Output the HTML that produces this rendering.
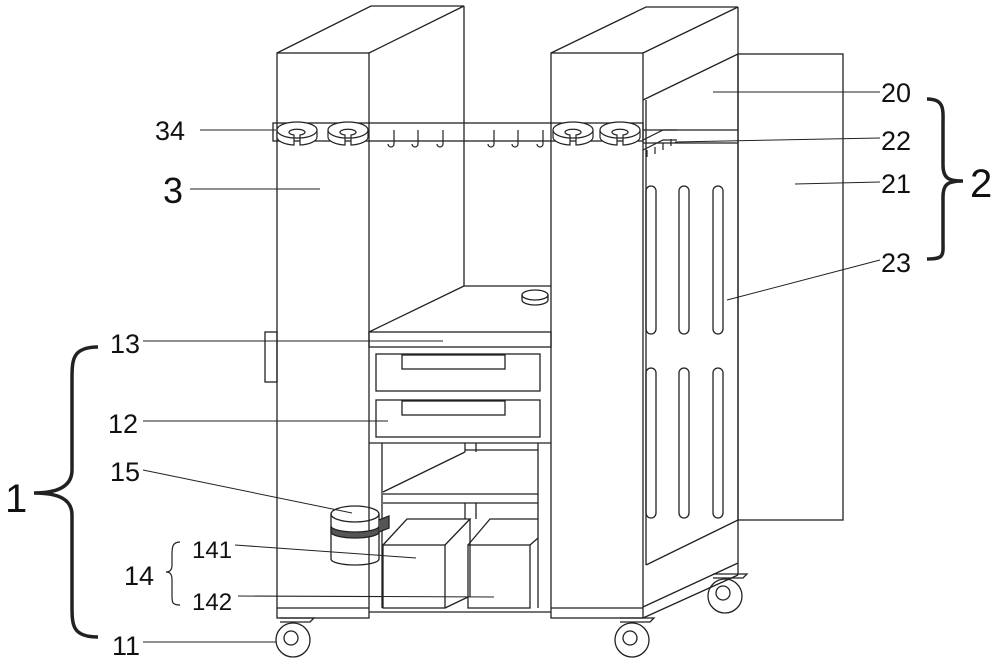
<!DOCTYPE html>
<html><head><meta charset="utf-8"><style>
html,body{margin:0;padding:0;background:#fff;}
svg{display:block}
text{font-family:"Liberation Sans",sans-serif;fill:#111}
</style></head><body>
<svg width="1000" height="666" viewBox="0 0 1000 666" xmlns="http://www.w3.org/2000/svg">
<defs>
<g id="holder" fill="#fff" stroke="#222" stroke-width="1.2">
<path d="M-20,0 a20,8 0 0 1 40,0 l0,7 a20,8 0 0 1 -17,8 l0,-7 l-6,0 l0,7 a20,8 0 0 1 -17,-8 z"/>
<path d="M-20,0 a20,8 0 0 0 17,8 l0,-3 a8,3 0 1 1 6,0 l0,3 a20,8 0 0 0 17,-8"/>
</g>
</defs>
<g fill="none" stroke="#222" stroke-width="1.3">
<!-- left tower -->
<rect x="277" y="53" width="92" height="565"/>
<line x1="277" y1="608" x2="369" y2="608"/>
<polyline points="277,53 371,6 464,6 369,53"/>
<line x1="464" y1="6" x2="464" y2="286"/>
<rect x="265" y="332" width="12" height="50"/>
<!-- right tower -->
<rect x="551" y="53" width="92" height="565"/>
<line x1="551" y1="608" x2="643" y2="608"/>
<polyline points="551,53 646,7 738,7 643,53"/>
<line x1="738" y1="7" x2="738" y2="575"/>
<line x1="643" y1="100" x2="738" y2="54"/>
<line x1="646" y1="100" x2="646" y2="565"/>
<line x1="643" y1="130" x2="738" y2="130"/>
<line x1="643" y1="143" x2="738" y2="143"/>
<rect x="738" y="54" width="105" height="466"/>
<line x1="646" y1="565" x2="738" y2="520"/>
<line x1="643" y1="607" x2="738" y2="563"/>
<line x1="643" y1="618" x2="738" y2="575"/>
<!-- slots -->
<g>
<rect x="646" y="186" width="10" height="148" rx="5"/>
<rect x="679" y="186" width="10" height="148" rx="5"/>
<rect x="713" y="186" width="10" height="148" rx="5"/>
<rect x="646" y="368" width="10" height="150" rx="5"/>
<rect x="679" y="368" width="10" height="150" rx="5"/>
<rect x="713" y="368" width="10" height="150" rx="5"/>
</g>
<!-- bar 34 -->
<rect x="273" y="123" width="370" height="18"/>
<g stroke-width="1.2">
<path d="M394,130 l0,14 a3,3 0 0 1 -6,0 M418,130 l0,14 a3,3 0 0 1 -6,0 M443,130 l0,14 a3,3 0 0 1 -6,0"/>
<path d="M494,130 l0,14 a3,3 0 0 1 -6,0 M518,130 l0,14 a3,3 0 0 1 -6,0 M543,130 l0,14 a3,3 0 0 1 -6,0"/>
<path d="M643,140 l20,-10 l14,0 M643,150 l20,-10 l14,0"/>
<path d="M647,150 l0,7 M655,147 l0,7 M663,143 l0,7 M671,139 l0,7"/>
</g>
<!-- middle shelf -->
<line x1="369" y1="332" x2="464" y2="286"/>
<line x1="464" y1="286" x2="551" y2="286"/>
<ellipse cx="535" cy="295" rx="13" ry="5"/>
<path d="M522,295 l0,5 a13,5 0 0 0 26,0 l0,-5"/>
<rect x="369" y="332" width="182" height="15"/>
<rect x="376" y="354" width="164" height="37"/>
<rect x="402" y="355" width="103" height="14"/>
<rect x="376" y="400" width="164" height="37"/>
<rect x="402" y="401" width="103" height="14"/>
<line x1="369" y1="443" x2="551" y2="443"/>
<line x1="382" y1="443" x2="382" y2="608"/>
<line x1="538" y1="443" x2="538" y2="608"/>
<line x1="369" y1="612" x2="551" y2="612"/>
<line x1="383" y1="492" x2="465" y2="452"/>
<line x1="465" y1="450" x2="538" y2="450"/>
<line x1="383" y1="494" x2="538" y2="494"/>
<line x1="383" y1="503" x2="538" y2="503"/>
<line x1="465" y1="443" x2="465" y2="452"/>
<line x1="476" y1="443" x2="476" y2="452"/>
<!-- boxes -->
<rect x="383" y="545" width="62" height="63"/>
<polyline points="383,545 407,519 470,519 445,545"/>
<line x1="470" y1="519" x2="470" y2="597"/>
<line x1="445" y1="608" x2="468" y2="597"/>
<rect x="468" y="545" width="62" height="63"/>
<polyline points="468,545 490,519 538,519"/>
<line x1="530" y1="545" x2="538" y2="538"/>
<line x1="465" y1="503" x2="465" y2="519"/>
<line x1="476" y1="503" x2="476" y2="519"/>
<!-- trash can -->
<ellipse cx="355" cy="514" rx="24" ry="8"/>
<path d="M331,514 l0,45 a24,6 0 0 0 48,0 l0,-45"/>
<path d="M331,526 a24,6 0 0 0 48,0 l0,6 a24,6 0 0 1 -48,0 z" fill="#555"/>
<path d="M379,520 l10,-4 l0,12 l-10,4" fill="#555"/>
<!-- wheels -->
<g>
<circle cx="293" cy="640" r="17"/><circle cx="291" cy="638" r="7"/>
<path d="M280,622 l30,0 l4,-4 l-34,0"/>
<circle cx="632" cy="640" r="17"/><circle cx="630" cy="638" r="7"/>
<path d="M620,622 l30,0 l4,-4 l-34,0"/>
<circle cx="725" cy="596" r="17"/><circle cx="723" cy="593" r="7"/>
<path d="M713,578 l30,0 l4,-4 l-34,0"/>
</g>
</g>
<use href="#holder" x="297" y="130"/>
<use href="#holder" x="348" y="130"/>
<use href="#holder" x="573" y="130"/>
<use href="#holder" x="620" y="130"/>
<!-- leaders -->
<g stroke="#222" stroke-width="1" fill="none">
<line x1="713" y1="92" x2="880" y2="92"/>
<line x1="675" y1="142" x2="880" y2="138"/>
<line x1="795" y1="184" x2="880" y2="182"/>
<line x1="727" y1="300" x2="880" y2="260"/>
<line x1="200" y1="130" x2="276" y2="130"/>
<line x1="190" y1="189" x2="320" y2="189"/>
<line x1="143" y1="341" x2="443" y2="341"/>
<line x1="143" y1="421" x2="388" y2="421"/>
<line x1="143" y1="470" x2="352" y2="513"/>
<line x1="235" y1="545" x2="416" y2="558"/>
<line x1="238" y1="596" x2="494" y2="597"/>
<line x1="143" y1="642" x2="276" y2="642"/>
<path d="M98,347 C72,347 72,360 72,380 L72,470 C72,485 60,493 34,493 C60,493 72,500 72,515 L72,605 C72,625 72,637 98,637" stroke-width="3.5"/>
<path d="M180,542 C172,542 172,548 172,555 L172,565 C172,570 170,572 166,572 C170,572 172,574 172,580 L172,596 C172,602 172,605 180,605" stroke-width="1.2"/>
<path d="M927,99 C945,99 943,110 943,125 L943,165 C943,178 948,181 963,181 C948,181 943,184 943,197 L943,240 C943,255 945,259 927,259" stroke-width="3.5"/>
</g>
<g font-size="27">
<text x="881" y="102">20</text>
<text x="881" y="150">22</text>
<text x="881" y="193">21</text>
<text x="881" y="272">23</text>
<text x="155" y="140">34</text>
<text x="110" y="353">13</text>
<text x="108" y="433">12</text>
<text x="110" y="481">15</text>
<text x="112" y="655">11</text>
<text x="192" y="558" font-size="24">141</text>
<text x="192" y="610" font-size="24">142</text>
<text x="124" y="585" font-size="27">14</text>
</g>
<text x="163" y="203" font-size="36">3</text>
<text x="5" y="512" font-size="40">1</text>
<text x="970" y="197" font-size="40">2</text>
</svg>
</body></html>
